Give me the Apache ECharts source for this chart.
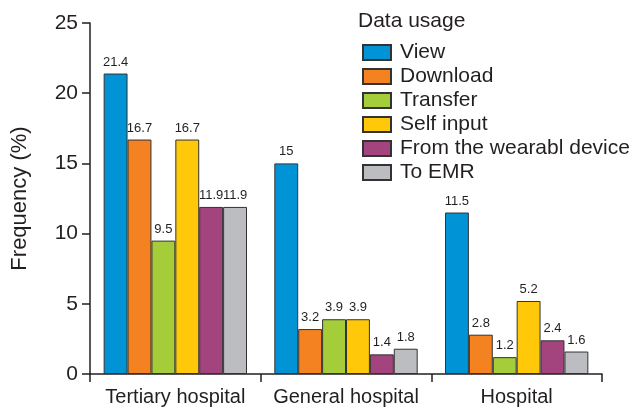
<!DOCTYPE html>
<html>
<head>
<meta charset="utf-8">
<script src="https://cdn.jsdelivr.net/npm/echarts@6/dist/echarts.min.js"></script>
<style>
html, body { margin: 0; padding: 0; background: #fff; }
#bar-charts { width: 632px; height: 408px; }
</style>
</head>
<body>
<div id="bar-charts"></div>
<script>
// categories and series
const categories = ['Tertiary hospital', 'General hospital', 'Hospital'];
const seriesNames = ['View', 'Download', 'Transfer', 'Self input', 'From the wearabl device', 'To EMR'];
const viewData = [21.4, 15, 11.5];
const downloadData = [16.7, 3.2, 2.8];
const transferData = [9.5, 3.9, 1.2];
const selfInputData = [16.7, 3.9, 5.2];
const wearableData = [11.9, 1.4, 2.4];
const emrData = [11.9, 1.8, 1.6];
const yTicks = [0, 5, 10, 15, 20, 25];

const allData = [viewData, downloadData, transferData, selfInputData, wearableData, emrData];
const colors = ['#0093d6', '#f58220', '#a4cd39', '#ffc90a', '#a4447f', '#bbbdc0'];
const font = 'Liberation Sans, Arial, sans-serif';
const ink = '#231f20';

let myChart = echarts.init(document.getElementById('bar-charts'));

myChart.setOption({
    animation: false,
    color: colors,
    textStyle: { fontFamily: font, color: ink },
    title: {
        text: 'Data usage',
        left: 353,
        top: 6,
        textStyle: { fontFamily: font, fontSize: 21, fontWeight: 'normal', color: ink }
    },
    legend: {
        orient: 'vertical',
        left: 357,
        top: 37,
        itemWidth: 28,
        itemHeight: 15,
        itemGap: 3,
        icon: 'rect',
        data: seriesNames,
        textStyle: { fontFamily: font, fontSize: 21, lineHeight: 21, color: ink, padding: [0, 0, 0, 4] }
    },
    grid: {
        left: 90,
        right: 30,
        top: 23,
        bottom: 34
    },
    xAxis: {
        type: 'category',
        data: categories,
        axisLine: { lineStyle: { color: ink, width: 1.5 } },
        axisTick: { show: true, length: 8, lineStyle: { color: ink, width: 1.5 } },
        axisLabel: { interval: 0, fontFamily: font, fontSize: 20, color: ink, margin: 13 }
    },
    yAxis: {
        type: 'value',
        min: yTicks[0],
        max: yTicks[yTicks.length - 1],
        interval: 5,
        name: 'Frequency (%)',
        nameLocation: 'middle',
        nameGap: 59,
        nameTextStyle: { fontFamily: font, fontSize: 22, color: ink },
        axisLine: { show: true, lineStyle: { color: ink, width: 1.5 } },
        axisTick: { show: true, length: 8, lineStyle: { color: ink, width: 1.5 } },
        axisLabel: { fontFamily: font, fontSize: 21, color: ink, margin: 12 },
        splitLine: { show: false }
    },
    series: seriesNames.map(function (name, i) {
        return {
            name: name,
            type: 'bar',
            data: allData[i],
            barGap: '0%',
            barCategoryGap: '16%',
            itemStyle: { borderColor: '#333', borderWidth: 1 },
            label: {
                show: true,
                position: 'top',
                distance: 5,
                fontFamily: font,
                fontSize: 13,
                color: ink
            }
        };
    })
});
</script>
</body>
</html>
